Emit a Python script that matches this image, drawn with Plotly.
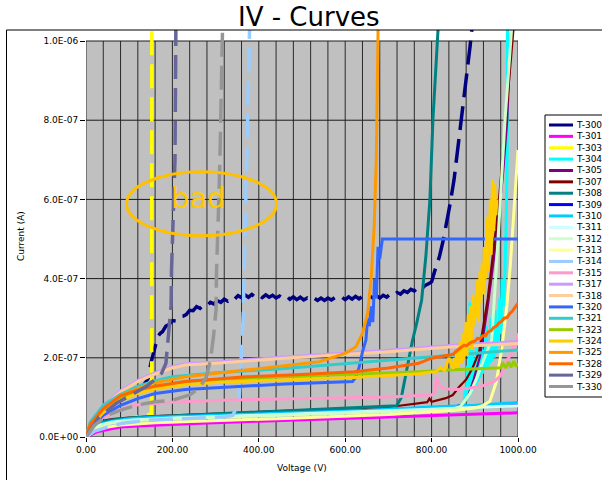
import plotly.graph_objects as go

# ---------------- text / ticks ----------------
TITLE = "IV - Curves"
X_TITLE = "Voltage (V)"
Y_TITLE = "Current (A)"
X_TICKS = [0, 200, 400, 600, 800, 1000]
X_TICK_LABELS = ["0.00", "200.00", "400.00", "600.00", "800.00", "1000.00"]
Y_TICKS = [0, 200, 400, 600, 800, 1000]          # current in nA
Y_TICK_LABELS = ["0.0E+00", "2.0E-07", "4.0E-07", "6.0E-07", "8.0E-07", "1.0E-06"]
X_MINOR_GRID = [40 * k for k in range(26)]
NOTE_TEXT = "bad"
NOTE_POS = (260, 603)
NOTE_ELLIPSE = (94, 441, 508, 670)

SERIES = ["T-300", "T-301", "T-303", "T-304", "T-305", "T-307", "T-308", "T-309",
          "T-310", "T-311", "T-312", "T-313", "T-314", "T-315", "T-317", "T-318",
          "T-320", "T-321", "T-323", "T-324", "T-325", "T-328", "T-329", "T-330"]

# ---------------- data: voltage (V) and current (nA) ----------------
V_T300 = [0, 30, 80, 130, 145, 150, 157, 162, 166, 172, 177, 185, 192,
          200, 208, 216, 224, 232, 240, 248, 256, 264, 272, 280, 288, 296, 304, 312, 320, 328, 336,
          344, 352, 360, 368, 376, 384, 392, 400, 408, 416, 424, 432, 440, 448, 456, 464, 472, 480,
          488, 496, 504, 512, 520, 528, 536, 544, 552, 560, 568, 576, 584, 592, 600, 608, 616, 624,
          632, 640, 648, 656, 664, 672, 680, 688, 696, 704, 712, 720, 728, 736, 744, 752, 760, 768,
          776, 784, 795, 800, 808, 818, 827, 835, 843, 852, 860, 870, 880, 889, 893, 900]
I_T300 = [0, 55, 95, 125, 150, 186, 215, 240, 253, 262, 266, 280, 284,
          294, 293, 304, 305, 309, 320, 319, 329, 325, 334, 331, 340, 336, 344, 340, 348, 343, 352,
          348, 357, 352, 359, 353, 360, 353, 359, 352, 359, 353, 358, 351, 356, 350, 356, 348, 354,
          347, 353, 346, 351, 345, 351, 345, 351, 345, 351, 346, 352, 347, 353, 347, 354, 348, 355,
          349, 355, 350, 356, 351, 357, 351, 358, 353, 361, 357, 365, 361, 369, 365, 373, 369, 377,
          373, 382, 388, 392, 422, 455, 497, 540, 590, 650, 720, 809, 900, 986, 1028, 1100]

V_T301 = [0, 10, 25, 50, 80, 120, 160, 250, 400, 600, 800, 1000]
I_T301 = [0, 6, 13, 19, 25, 28, 30, 34, 40, 47, 54, 61]

V_T303 = [0, 25, 60, 100, 140, 151, 152, 152.5]
I_T303 = [0, 22, 36, 46, 54, 58, 100, 1100]

V_T304 = [0, 10, 30, 60, 100, 200, 400, 600, 800, 850, 872, 875, 878, 881, 883, 886, 889, 891, 894,
          897, 899, 902, 905, 907, 910, 913, 915, 918, 921, 923, 926, 929, 931, 934, 937, 939, 942,
          945, 947, 950, 953, 955, 958, 961, 963, 966, 970, 973, 975, 976]
I_T304 = [0, 19, 31, 39, 44, 51, 58, 64, 71, 74, 78, 84, 120, 90, 180, 100, 340, 110, 260,
          120, 200, 130, 240, 140, 190, 150, 260, 160, 220, 170, 280, 175, 230, 185, 300, 190, 260,
          200, 320, 210, 290, 230, 350, 260, 400, 330, 420, 560, 700, 1100]

V_T305 = [0, 10, 30, 60, 100, 200, 400, 600, 800, 850, 870, 885, 897, 912, 930, 950, 965, 975, 985]
I_T305 = [0, 18, 30, 38, 43, 50, 57, 64, 72, 76, 82, 105, 144, 203, 330, 500, 660, 800, 1050]

V_T307 = [0, 5, 15, 30, 60, 100, 160, 250, 400, 550, 700, 725, 771, 790, 795, 800, 833, 849, 864,
          880, 895, 910, 930, 954, 970, 988, 995]
I_T307 = [0, 19, 31, 39, 45, 49, 53, 57, 63, 69, 76, 79, 85, 88, 97, 89, 98, 106, 127,
          145, 175, 215, 350, 573, 780, 1028, 1100]

V_T308 = [0, 5, 15, 30, 60, 100, 154, 250, 386, 550, 719, 730, 742, 755, 766, 777, 787, 796, 803, 810, 816]
I_T308 = [0, 18, 28, 36, 43, 48, 51, 56, 62, 70, 79, 100, 170, 240, 290, 346, 460, 598, 800, 930, 1050]

V_T309 = [0, 10, 30, 60, 100, 160, 300, 460, 650, 800, 1000]
I_T309 = [0, 17, 31, 39, 45, 49, 54, 59, 66, 74, 84]

V_T310 = [0, 10, 30, 60, 100, 160, 300, 460, 650, 800, 900, 1000]
I_T310 = [0, 18, 32, 40, 46, 50, 55, 60, 67, 76, 80, 87]

V_T311 = [0, 10, 30, 60, 100, 200, 400, 600, 800, 1000]
I_T311 = [0, 17, 29, 37, 42, 48, 55, 62, 70, 79]

V_T312 = [0, 10, 30, 60, 100, 200, 400, 600, 800, 850, 866, 889, 905, 920, 939, 950, 958, 970, 985, 990]
I_T312 = [0, 16, 28, 36, 41, 47, 53, 60, 68, 71, 76, 110, 150, 194, 245, 430, 573, 800, 1028, 1100]

V_T313 = [0, 10, 40, 80, 160, 300, 460, 700, 850, 900, 920, 935, 950, 962, 974, 982, 989, 995, 1000]
I_T313 = [0, 14, 23, 30, 36, 42, 47, 57, 67, 73, 80, 90, 140, 220, 329, 430, 540, 630, 725]

V_T314 = [0, 20, 50, 85, 154, 231, 324, 340, 347, 351, 355, 361, 364, 372, 378, 380]
I_T314 = [0, 15, 25, 35, 43, 47, 51, 55, 72, 81, 98, 228, 312, 700, 1028, 1100]

V_T315 = [0, 10, 40, 80, 116, 200, 310, 450, 617, 700, 800, 808, 810, 812, 816, 822, 835, 860, 890,
          920, 945, 960, 975, 985, 990, 995, 1000]
I_T315 = [0, 20, 50, 70, 81, 88, 93, 96, 98, 101, 106, 112, 140, 152, 138, 126, 121, 120, 124,
          130, 140, 155, 195, 210, 235, 228, 262]

V_T317 = [0, 10, 40, 80, 120, 155, 195, 230, 310, 460, 700, 850, 1000]
I_T317 = [0, 37, 80, 117, 143, 160, 176, 185, 190, 202, 219, 232, 241]

V_T318 = [0, 10, 40, 80, 120, 155, 195, 230, 310, 460, 700, 850, 1000]
I_T318 = [0, 35, 77, 114, 140, 157, 173, 182, 187, 199, 215, 228, 236]

V_T320 = [0, 10, 40, 80, 120, 160, 230, 310, 370, 460, 540, 600, 617, 625, 632, 640, 648, 652, 656,
          660, 664, 668, 672, 676, 680, 686, 692, 1000]
I_T320 = [0, 22, 55, 80, 97, 110, 120, 125, 130, 134, 137, 139, 140, 152, 175, 215, 245, 300, 280,
          330, 290, 400, 350, 480, 450, 500, 500, 500]

V_T321 = [0, 10, 40, 80, 120, 160, 200, 300, 460, 650, 850, 1000]
I_T321 = [0, 38, 80, 108, 128, 142, 152, 162, 173, 190, 207, 220]

V_T323 = [0, 10, 40, 80, 120, 160, 230, 310, 460, 620, 770, 850, 920, 960, 966, 972, 978, 984, 990, 995, 1000]
I_T323 = [0, 30, 68, 98, 116, 128, 140, 146, 152, 158, 165, 170, 172, 175, 185, 174, 190, 176, 192, 178, 186]

V_T324 = [0, 10, 40, 80, 120, 160, 230, 310, 460, 620, 770, 810, 820, 830, 840, 850, 853, 856, 858,
          861, 864, 866, 869, 872, 874, 877, 880, 882, 885, 888, 890, 893, 896, 898, 901, 904, 906,
          909, 912, 914, 917, 920, 922, 925, 928, 930, 933, 936, 938, 941, 944, 946, 949, 951]
I_T324 = [0, 27, 62, 92, 110, 122, 132, 138, 144, 150, 160, 165, 175, 168, 200, 172, 200, 175, 215,
          178, 190, 240, 185, 260, 195, 230, 290, 205, 310, 240, 330, 220, 360, 280, 330, 300, 396,
          290, 420, 340, 440, 360, 480, 400, 556, 420, 500, 600, 460, 650, 520, 640, 560, 600]

V_T325 = [0, 10, 40, 80, 150, 230, 370, 540, 600, 625, 640, 652, 660, 667, 672, 677]
I_T325 = [0, 30, 70, 105, 135, 152, 169, 190, 211, 228, 262, 312, 400, 530, 700, 1100]

V_T328 = [0, 10, 40, 80, 120, 160, 230, 310, 370, 500, 620, 700, 770, 800, 820, 850, 856, 862, 868,
          875, 881, 887, 893, 900, 906, 912, 918, 925, 931, 937, 943, 950, 956, 962, 968, 975, 981,
          987, 993, 1000]
I_T328 = [0, 32, 72, 104, 119, 128, 140, 146, 152, 158, 165, 174, 186, 199, 203, 209, 216, 220, 226,
          232, 230, 236, 240, 242, 249, 248, 256, 256, 266, 268, 276, 280, 288, 292, 300, 302, 312,
          318, 326, 338]

V_T329 = [0, 30, 70, 110, 140, 160, 175, 185, 189, 194, 197, 198, 202, 206, 208, 210]
I_T329 = [0, 50, 85, 110, 128, 145, 161, 186, 228, 295, 333, 422, 560, 700, 1028, 1100]

V_T330 = [0, 20, 50, 80, 120, 160, 200, 240, 262, 278, 288, 295, 301, 302, 306, 310, 316, 318]
I_T330 = [0, 30, 55, 68, 81, 89, 93, 106, 123, 150, 194, 253, 321, 413, 550, 700, 1028, 1100]

DATA = {
    "T-300": (V_T300, I_T300), "T-301": (V_T301, I_T301), "T-303": (V_T303, I_T303),
    "T-304": (V_T304, I_T304), "T-305": (V_T305, I_T305), "T-307": (V_T307, I_T307),
    "T-308": (V_T308, I_T308), "T-309": (V_T309, I_T309), "T-310": (V_T310, I_T310),
    "T-311": (V_T311, I_T311), "T-312": (V_T312, I_T312), "T-313": (V_T313, I_T313),
    "T-314": (V_T314, I_T314), "T-315": (V_T315, I_T315), "T-317": (V_T317, I_T317),
    "T-318": (V_T318, I_T318), "T-320": (V_T320, I_T320), "T-321": (V_T321, I_T321),
    "T-323": (V_T323, I_T323), "T-324": (V_T324, I_T324), "T-325": (V_T325, I_T325),
    "T-328": (V_T328, I_T328), "T-329": (V_T329, I_T329), "T-330": (V_T330, I_T330),
}

# ---------------- styles ----------------
COLORS = {
    "T-300": "#000080", "T-301": "#FF00FF", "T-303": "#FFFF00", "T-304": "#00FFFF",
    "T-305": "#800080", "T-307": "#800000", "T-308": "#008080", "T-309": "#0000FF",
    "T-310": "#00CCFF", "T-311": "#CCFFFF", "T-312": "#CCFFCC", "T-313": "#FFFF99",
    "T-314": "#99CCFF", "T-315": "#FF99CC", "T-317": "#CC99FF", "T-318": "#FFCC99",
    "T-320": "#3366FF", "T-321": "#33CCCC", "T-323": "#99CC00", "T-324": "#FFCC00",
    "T-325": "#FF9900", "T-328": "#FF6600", "T-329": "#666699", "T-330": "#969696",
}
DASHED = {"T-300", "T-303", "T-314", "T-329", "T-330"}
THIN = {"T-305", "T-307"}
FONT = "DejaVu Sans"
Y_TOP = 1027.8

fig = go.Figure()

for name in SERIES:
    v, i = DATA[name]
    dashed = name in DASHED
    width = 3.5 if dashed else (2.2 if name in THIN else 3)
    fig.add_trace(go.Scatter(
        x=v, y=i, mode="lines", name=name, showlegend=False,
        line=dict(color=COLORS[name], width=width, dash="24px,9px" if dashed else "solid"),
        hoverinfo="skip",
    ))

shapes = []
# plot area background (only up to 1.0E-06)
shapes.append(dict(type="rect", xref="x", yref="y", x0=0, x1=1000, y0=0, y1=1000,
                   fillcolor="#C0C0C0", line=dict(width=0), layer="below"))
for gx in X_MINOR_GRID:
    shapes.append(dict(type="line", xref="x", yref="y", x0=gx, x1=gx, y0=0, y1=1000,
                       line=dict(color="#2a2a2a", width=1), layer="below"))
for gy in Y_TICKS:
    shapes.append(dict(type="line", xref="x", yref="y", x0=0, x1=1000, y0=gy, y1=gy,
                       line=dict(color="#1a1a1a", width=1), layer="below"))

# annotation ellipse
ex0, ex1, ey0, ey1 = NOTE_ELLIPSE
shapes.append(dict(type="circle", xref="x", yref="y", x0=ex0, x1=ex1, y0=ey0, y1=ey1,
                   line=dict(color="#FFC000", width=3), layer="above"))

# outer chart frame
shapes.append(dict(type="rect", xref="paper", yref="paper", x0=-0.184, x1=1.21, y0=-0.13, y1=1.0,
                   line=dict(color="black", width=1), fillcolor="rgba(0,0,0,0)", layer="above"))


def px_x(p):
    return (p - 86) / 432.0


def px_y(p):
    return (437 - p) / 407.0


# legend box
shapes.append(dict(type="rect", xref="paper", yref="paper", x0=px_x(545), x1=px_x(610),
                   y0=px_y(397), y1=px_y(115), line=dict(color="black", width=1),
                   fillcolor="white", layer="above"))

annotations = []
for k, name in enumerate(SERIES):
    yy = 125 + k * 11.37
    shapes.append(dict(type="line", xref="paper", yref="paper", x0=px_x(549), x1=px_x(573),
                       y0=px_y(yy), y1=px_y(yy), line=dict(color=COLORS[name], width=3),
                       layer="above"))
    annotations.append(dict(xref="paper", yref="paper", x=px_x(574), y=px_y(yy), text=name,
                            showarrow=False, xanchor="left", yanchor="middle",
                            font=dict(family=FONT, size=9, color="black")))

annotations.append(dict(xref="x", yref="y", x=NOTE_POS[0], y=NOTE_POS[1], text=NOTE_TEXT,
                        showarrow=False, xanchor="center", yanchor="middle",
                        font=dict(family=FONT, size=29, color="#FFC800")))
annotations.append(dict(xref="paper", yref="paper", x=px_x(309), y=px_y(17), text=TITLE,
                        showarrow=False, xanchor="center", yanchor="middle",
                        font=dict(family=FONT, size=26, color="black")))
annotations.append(dict(xref="paper", yref="paper", x=px_x(302), y=px_y(468), text=X_TITLE,
                        showarrow=False, xanchor="center", yanchor="middle",
                        font=dict(family=FONT, size=9, color="black")))
annotations.append(dict(xref="paper", yref="paper", x=px_x(21), y=px_y(236), text=Y_TITLE,
                        showarrow=False, xanchor="center", yanchor="middle", textangle=-90,
                        font=dict(family=FONT, size=9, color="black")))

fig.update_layout(
    width=602, height=480,
    margin=dict(l=86, r=84, t=30, b=43, pad=0),
    paper_bgcolor="white", plot_bgcolor="white",
    showlegend=False,
    shapes=shapes, annotations=annotations,
    font=dict(family=FONT, size=9, color="black"),
    xaxis=dict(range=[0, 1000], tickvals=X_TICKS, ticktext=X_TICK_LABELS, ticks="outside",
               ticklen=4, tickcolor="black", showgrid=False, zeroline=False, showline=False,
               tickfont=dict(family=FONT, size=9, color="black"), fixedrange=True),
    yaxis=dict(range=[0, Y_TOP], tickvals=Y_TICKS, ticktext=Y_TICK_LABELS, ticks="outside",
               ticklen=5, tickcolor="black", showgrid=False, zeroline=False, showline=False,
               tickfont=dict(family=FONT, size=9, color="black"), fixedrange=True),
)

fig.write_html("out.html")
